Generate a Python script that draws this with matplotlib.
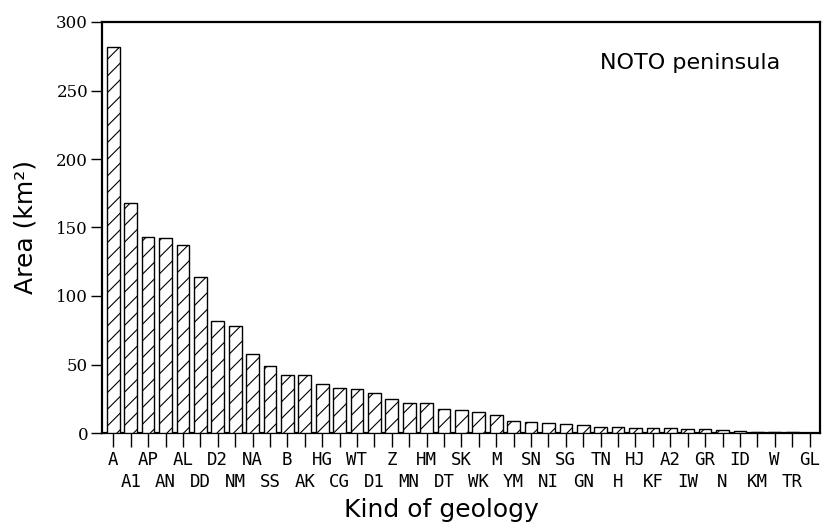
"""
Area by kind of geology, NOTO peninsula (hatched bar chart).
"""

import matplotlib
matplotlib.use("Agg")
import matplotlib.pyplot as plt
import numpy as np

# ── Data ──────────────────────────────────────────────────────────────────────
geology = [
    "A", "A1", "AP", "AN", "AL", "DD", "D2", "NM", "NA", "SS",
    "B", "AK", "HG", "CG", "WT", "D1", "Z", "MN", "HM", "DT",
    "SK", "WK", "M", "YM", "SN", "NI", "SG", "GN", "TN", "H",
    "HJ", "KF", "A2", "IW", "GR", "N", "ID", "KM", "W", "TR", "GL",
]
area_km2 = [
    282, 168, 143, 142, 137, 114, 82, 78, 58, 49,
    42, 42, 35.5, 33, 32.4, 29.4, 25, 22, 22, 17.5,
    16.5, 15, 13, 8.5, 8, 7, 6.5, 6, 4.6, 4.4,
    4.0, 3.8, 3.5, 3.2, 2.8, 2.2, 1.5, 1.0, 0.8, 0.5, 0.3,
]
y_ticks = [0, 50, 100, 150, 200, 250, 300]

# ── Style ─────────────────────────────────────────────────────────────────────
plt.rcParams.update({
    "font.family": "DejaVu Sans",
    "hatch.linewidth": 0.8,
    "axes.linewidth": 1.6,
})

fig = plt.figure(figsize=(8.23, 5.30), dpi=100)
ax = fig.add_axes([102 / 823, 1 - 433 / 530, (820 - 102) / 823, (433 - 22) / 530])

x = np.arange(len(geology))
ax.bar(x, area_km2, width=0.73, color="white", edgecolor="black",
       linewidth=1.0, hatch="//", zorder=3)

ax.set_xlim(-0.65, len(geology) - 0.4)
ax.set_ylim(0, 300)

# tick labels alternate between two rows: even ones on top, odd ones below
ax.set_xticks(x[::2], geology[::2])
ax.set_xticks(x[1::2], geology[1::2], minor=True)
for lab in ax.get_xticklabels(which="both"):
    lab.set_family("DejaVu Sans Mono")
    lab.set_fontsize(12.5)
ax.tick_params(axis="x", which="both", direction="out", length=10,
               width=1.0)
ax.tick_params(axis="x", which="major", pad=3)
ax.tick_params(axis="x", which="minor", pad=19)

ax.set_yticks(y_ticks)
ax.set_yticklabels([str(v) for v in y_ticks], family="DejaVu Serif",
                   fontsize=12)
ax.tick_params(axis="y", direction="out", length=8, width=1.0, pad=2)

ax.set_xlabel("Kind of geology", fontsize=18)
ax.xaxis.set_label_coords((441 - 102) / 718, (433 - 498) / 411)
ax.set_ylabel("Area (km²)", fontsize=18)
ax.yaxis.set_label_coords((38 - 102) / 718, 0.5)

ax.text(0.944, 0.9, "NOTO peninsula", transform=ax.transAxes,
        ha="right", va="center", fontsize=16)

fig.savefig("out.png", dpi=100)
